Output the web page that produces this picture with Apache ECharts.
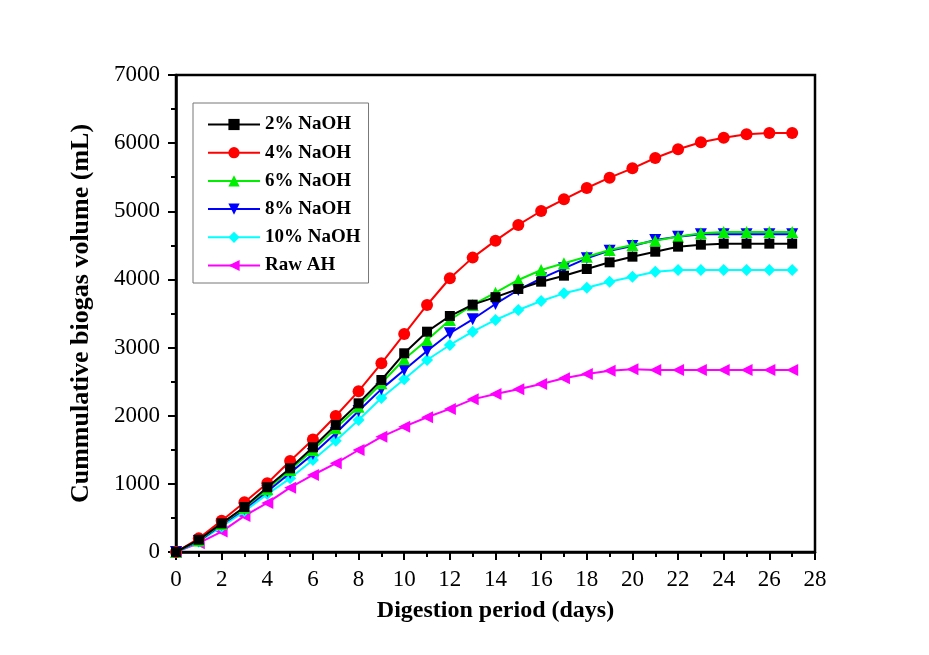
<!DOCTYPE html>
<html>
<head>
<meta charset="utf-8">
<script src="https://cdn.jsdelivr.net/npm/echarts@6/dist/echarts.min.js"></script>
<style>
html,body{margin:0;padding:0;background:#fff;}
#c{width:929px;height:655px;}
</style>
</head>
<body>
<div id="c"></div>
<script>
const days = [0,1,2,3,4,5,6,7,8,9,10,11,12,13,14,15,16,17,18,19,20,21,22,23,24,25,26,27];
const seriesNames = ['2% NaOH','4% NaOH','6% NaOH','8% NaOH','10% NaOH','Raw AH'];
const naoh2  = [0,180,420,660,950,1228,1536,1864,2182,2524,2916,3233,3463,3630,3740,3860,3967,4055,4153,4251,4334,4407,4481,4510,4525,4525,4525,4525];
const naoh4  = [0,200,460,730,1010,1335,1650,1996,2360,2769,3199,3625,4017,4320,4569,4800,5004,5176,5342,5493,5630,5782,5910,6012,6080,6130,6149,6149];
const naoh6  = [0,170,410,650,920,1203,1497,1815,2133,2476,2828,3111,3405,3625,3806,3992,4138,4237,4334,4432,4505,4569,4628,4677,4695,4695,4695,4695];
const naoh8  = [0,160,400,630,890,1160,1438,1742,2070,2390,2671,2950,3210,3415,3640,3845,4016,4163,4310,4422,4491,4579,4628,4662,4662,4662,4662,4662];
const naoh10 = [0,150,370,600,850,1081,1350,1633,1937,2260,2534,2818,3038,3233,3405,3552,3684,3796,3879,3967,4040,4114,4138,4138,4138,4138,4138,4138];
const rawAH  = [0,130,300,530,720,944,1130,1301,1497,1690,1839,1977,2100,2240,2320,2388,2465,2549,2612,2661,2681,2671,2671,2671,2671,2671,2671,2671];
const xTicks = [0,2,4,6,8,10,12,14,16,18,20,22,24,26,28];
const yTicks = [0,1000,2000,3000,4000,5000,6000,7000];

const font = '"Liberation Serif","Times New Roman",serif';
const colors = ['#000000','#ff0000','#00ee00','#0000ff','#00ffff','#ff00ff'];
const symbols = ['rect','circle','triangle','triangle','diamond','triangle'];
const rotates = [0,0,0,180,0,90];
const sizes = [10,12,12,12,12,12];
const values = [naoh2,naoh4,naoh6,naoh8,naoh10,rawAH];

const series = seriesNames.map((n,i)=>({
  name:n, type:'line',
  data: days.map((d,j)=>[d, values[i][j]]),
  symbol: symbols[i], symbolRotate: rotates[i], symbolSize: sizes[i],
  showAllSymbol:true,
  itemStyle:{color:colors[i]},
  lineStyle:{color:colors[i], width:2},
  z: 10 - i,
  animation:false
}));

const chart = echarts.init(document.getElementById('c'), null, {renderer:'canvas'});
chart.setOption({
  backgroundColor:'#ffffff',
  animation:false,
  grid:{left:176, right:114, top:75, bottom:103, show:true, borderColor:'#000', borderWidth:2.5, backgroundColor:'transparent'},
  legend:{
    orient:'vertical', left:193, top:103,
    data: seriesNames,
    itemWidth:52, itemHeight:14, itemGap:9.2,
    padding:[12,8,8,14],
    borderColor:'#777', borderWidth:1,
    textStyle:{fontFamily:font, fontWeight:'bold', fontSize:19, color:'#000'}
  },
  xAxis:{
    type:'value', min:0, max:28, interval:2,
    name:'Digestion period (days)', nameLocation:'middle', nameGap:47,
    nameTextStyle:{fontFamily:font, fontWeight:'bold', fontSize:24, color:'#000'},
    axisLine:{lineStyle:{color:'#000', width:2.5}},
    axisTick:{inside:false, length:8, lineStyle:{color:'#000', width:2}},
    minorTick:{show:true, splitNumber:2, length:5, lineStyle:{color:'#000', width:2}},
    splitLine:{show:false},
    axisLabel:{fontFamily:font, fontSize:23, color:'#000', margin:16,
      formatter:v=> xTicks.includes(v) ? String(v) : ''}
  },
  yAxis:{
    type:'value', min:0, max:7000, interval:1000,
    name:'Cummulative biogas volume (mL)', nameLocation:'middle', nameGap:82,
    nameTextStyle:{fontFamily:font, fontWeight:'bold', fontSize:26, color:'#000'},
    axisLine:{lineStyle:{color:'#000', width:2.5}},
    axisTick:{inside:false, length:8, lineStyle:{color:'#000', width:2}},
    minorTick:{show:true, splitNumber:2, length:5, lineStyle:{color:'#000', width:2}},
    splitLine:{show:false},
    axisLabel:{fontFamily:font, fontSize:23, color:'#000', margin:16,
      formatter:v=> yTicks.includes(v) ? String(v) : ''}
  },
  series: series
});
</script>
</body>
</html>
